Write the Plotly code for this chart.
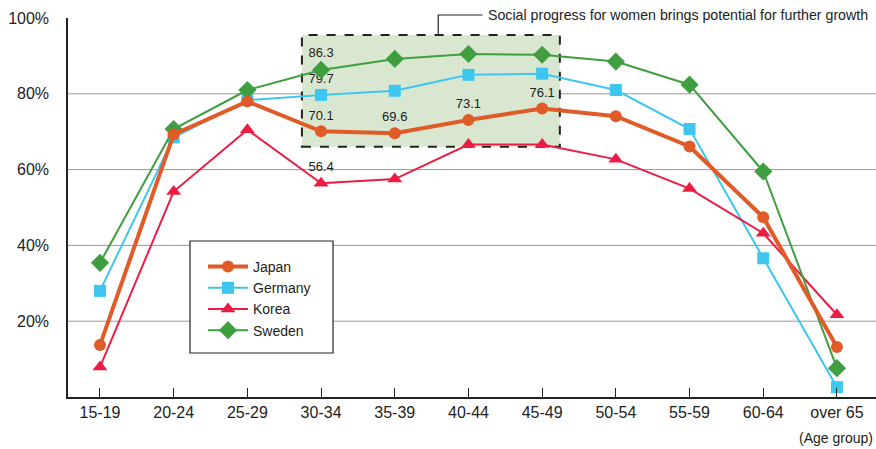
import plotly.graph_objects as go

age_groups = ["15-19", "20-24", "25-29", "30-34", "35-39", "40-44", "45-49",
              "50-54", "55-59", "60-64", "over 65"]
japan = [13.7, 69.3, 78.0, 70.1, 69.6, 73.1, 76.1, 74.1, 66.1, 47.4, 13.2]
germany = [28.0, 68.5, 78.3, 79.7, 80.8, 85.0, 85.3, 81.0, 70.7, 36.6, 2.6]
korea = [7.9, 54.2, 70.5, 56.4, 57.5, 66.6, 66.6, 62.7, 55.0, 43.2, 21.7]
sweden = [35.4, 70.7, 81.0, 86.3, 89.2, 90.5, 90.3, 88.5, 82.4, 59.5, 7.6]

japan_labels = ["", "", "", "70.1", "69.6", "73.1", "76.1", "", "", "", ""]
germany_labels = ["", "", "", "79.7", "", "", "", "", "", "", ""]
korea_labels = ["", "", "", "56.4", "", "", "", "", "", "", ""]
sweden_labels = ["", "", "", "86.3", "", "", "", "", "", "", ""]

y_ticks = [20, 40, 60, 80, 100]
y_tick_text = ["20%", "40%", "60%", "80%", "100%"]
grid_values = [20, 40, 60, 80]

x_idx = list(range(len(age_groups)))

FONT = "Liberation Sans, Arial, sans-serif"

# plot area in pixels (for paper-coordinate helpers)
L, R, T, B, W, H = 68, 0, 18, 52, 876, 449
PW, PH = W - L - R, H - T - B


def px(x):
    return (x - L) / PW


def py(y):
    return (H - B - y) / PH


fig = go.Figure()

series = {
    "Japan": (japan, japan_labels, "#E05B27", 4, "circle", 12),
    "Germany": (germany, germany_labels, "#3FC6F0", 2, "square", 12),
    "Korea": (korea, korea_labels, "#EC1C45", 2, "triangle-up", 13),
    "Sweden": (sweden, sweden_labels, "#3E9E40", 2, "diamond", 14),
}
legend_rank = {"Japan": 1, "Germany": 2, "Korea": 3, "Sweden": 4}
for name in ["Germany", "Korea", "Sweden", "Japan"]:
    vals, labels, color, width, sym, size = series[name]
    fig.add_trace(go.Scatter(
        x=x_idx, y=vals, name=name, mode="lines+markers+text",
        text=labels, textposition="top center",
        textfont=dict(family=FONT, size=13, color="#222"),
        line=dict(color=color, width=width),
        marker=dict(color=color, symbol=sym, size=size, line=dict(width=0)),
        cliponaxis=False, legendrank=legend_rank[name],
    ))

# highlight box
fig.add_shape(type="rect", xref="x", yref="y", x0=2.74, x1=6.24, y0=66.0, y1=95.5,
              fillcolor="#D9E7D1", line=dict(width=0), layer="below")
fig.add_shape(type="rect", xref="x", yref="y", x0=2.74, x1=6.24, y0=66.0, y1=95.5,
              fillcolor="rgba(0,0,0,0)", line=dict(color="#222", width=2, dash="dash"),
              layer="below")
# bracket line
fig.add_shape(type="path", xref="x", yref="paper",
              path=f"M 4.59 {py(35)} L 4.59 {py(15)} L 5.19 {py(15)}",
              line=dict(color="#222", width=1.2))
fig.add_annotation(x=5.24, y=py(15), xref="x", yref="paper", xanchor="left", yanchor="middle",
                   text="Social progress for women brings potential for further growth",
                   showarrow=False, font=dict(family=FONT, size=14.2, color="#222"))
fig.add_annotation(x=px(875), y=py(438), xref="paper", yref="paper", xanchor="right",
                   yanchor="middle", text="(Age group)", showarrow=False,
                   font=dict(family=FONT, size=14, color="#222"))

for g in grid_values:
    fig.add_shape(type="line", xref="paper", yref="y", x0=0, x1=1, y0=g, y1=g,
                  line=dict(color="#999", width=1), layer="below")

# legend frame
fig.add_shape(type="rect", xref="paper", yref="paper", x0=px(190), x1=px(333),
              y0=py(353), y1=py(241), fillcolor="white",
              line=dict(color="#222", width=1.2), layer="above")

fig.update_layout(
    width=W, height=H,
    margin=dict(l=L, r=R, t=T, b=B, autoexpand=False),
    paper_bgcolor="white", plot_bgcolor="white",
    font=dict(family=FONT, size=16, color="#222"),
    showlegend=True,
    legend=dict(x=px(203), y=py(251), xref="paper", yref="paper",
                xanchor="left", yanchor="top",
                borderwidth=0, bgcolor="rgba(0,0,0,0)",
                font=dict(family=FONT, size=14, color="#222"),
                traceorder="normal", tracegroupgap=0, itemwidth=40),
    xaxis=dict(range=[-0.434, 10.53], tickmode="array", tickvals=x_idx, ticktext=age_groups,
               showline=True, linecolor="#222", linewidth=1.5, showgrid=False,
               ticks="inside", ticklen=9, tickcolor="#222", zeroline=False,
               automargin=False, tickfont=dict(family=FONT, size=16)),
    yaxis=dict(range=[0, 100], tickmode="array", tickvals=y_ticks, ticktext=y_tick_text,
               showline=True, linecolor="#222", linewidth=1.5, showgrid=False,
               ticks="", zeroline=False, ticklabelstandoff=14, automargin=False,
               tickfont=dict(family=FONT, size=16)),
)

fig.write_html("out.html", config={"displayModeBar": False},
               post_script="document.body.style.margin='0';")
